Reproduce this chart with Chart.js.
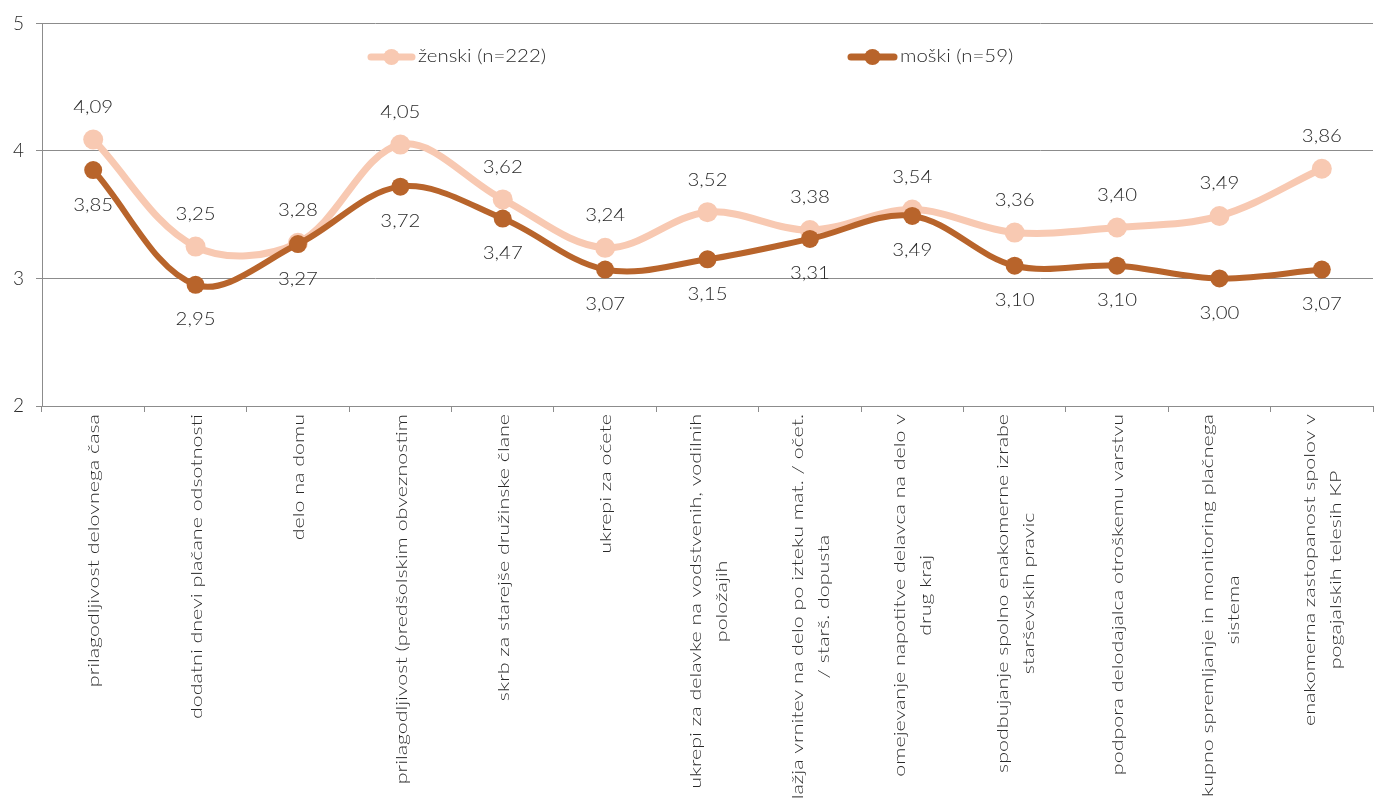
<!DOCTYPE html>
<html>
<head>
<meta charset="utf-8">
<script src="https://cdn.jsdelivr.net/npm/chart.js@4.4.0/dist/chart.umd.min.js"></script>
<style>
  html, body { margin: 0; padding: 0; background: #fff; }
  #wrap { width: 1383px; height: 798px; }
</style>
</head>
<body>
<div id="wrap"><canvas id="myChart"></canvas></div>
<script>
// category labels (line breaks as in the original)
var labels = [
    ['prilagodljivost delovnega časa'],
    ['dodatni dnevi plačane odsotnosti'],
    ['delo na domu'],
    ['prilagodljivost (predšolskim obveznostim'],
    ['skrb za starejše družinske člane'],
    ['ukrepi za očete'],
    ['ukrepi za delavke na vodstvenih, vodilnih', 'položajih'],
    ['lažja vrnitev na delo po izteku mat. / očet.', '/ starš. dopusta'],
    ['omejevanje napotitve delavca na delo v', 'drug kraj'],
    ['spodbujanje spolno enakomerne izrabe', 'starševskih pravic'],
    ['podpora delodajalca otroškemu varstvu'],
    ['skupno spremljanje in monitoring plačnega', 'sistema'],
    ['enakomerna zastopanost spolov v', 'pogajalskih telesih KP']
];
var zenski = [4.09, 3.25, 3.28, 4.05, 3.62, 3.24, 3.52, 3.38, 3.54, 3.36, 3.40, 3.49, 3.86];
var moski = [3.85, 2.95, 3.27, 3.72, 3.47, 3.07, 3.15, 3.31, 3.49, 3.10, 3.10, 3.00, 3.07];
var yTicks = [2, 3, 4, 5];

var zenskiColor = '#f8c9b2';
var moskiColor = '#b8642b';
var gridColor = '#8c8c8c';
var textColor = '#2a2a2a';
var fontFam = 'Lato, "Liberation Sans", sans-serif';

function fmt(v) {
    return v.toFixed(2).replace('.', ',');
}

// stretched text like the original picture
function drawText(ctx, txt, x, y, sx) {
    ctx.save();
    ctx.translate(x, y);
    ctx.scale(sx, 1);
    ctx.fillText(txt, 0, 0);
    ctx.restore();
}

var extras = {
    id: 'extras',
    afterDatasetsDraw: function(chart) {
        var ctx = chart.ctx;
        var xs = chart.scales.x;
        var area = chart.chartArea;

        // data labels
        ctx.save();
        ctx.font = '300 17px ' + fontFam;
        ctx.fillStyle = textColor;
        ctx.textAlign = 'center';
        ctx.textBaseline = 'middle';
        [[0, -32], [1, 35]].forEach(function(d) {
            var meta = chart.getDatasetMeta(d[0]);
            var vals = chart.data.datasets[d[0]].data;
            meta.data.forEach(function(pt, i) {
                drawText(ctx, fmt(vals[i]), pt.x, pt.y + d[1], 1.2);
            });
        });
        ctx.restore();

        // category labels, rotated
        ctx.save();
        ctx.font = '300 16px ' + fontFam;
        ctx.fillStyle = textColor;
        ctx.textBaseline = 'middle';
        ctx.textAlign = 'center';
        var lh = 26;
        var sx = 1.34;
        labels.forEach(function(lines, i) {
            var x = xs.getPixelForValue(i) + 1;
            var w = 0;
            lines.forEach(function(l) { w = Math.max(w, ctx.measureText(l).width * sx); });
            ctx.save();
            ctx.translate(x, area.bottom + 8);
            ctx.rotate(-Math.PI / 2);
            lines.forEach(function(l, k) {
                var off = (k - (lines.length - 1) / 2) * lh;
                drawText(ctx, l, -w / 2, off, sx);
            });
            ctx.restore();
        });
        ctx.restore();

        // legend inside plot
        ctx.save();
        ctx.font = '300 17px ' + fontFam;
        ctx.textBaseline = 'middle';
        ctx.textAlign = 'left';
        [[zenskiColor, 'ženski (n=222)', 368, 415], [moskiColor, 'moški (n=59)', 848, 897]].forEach(function(l) {
            var y = 57;
            ctx.strokeStyle = l[0];
            ctx.lineWidth = 7;
            ctx.lineCap = 'round';
            ctx.beginPath();
            ctx.moveTo(l[2] + 3, y);
            ctx.lineTo(l[3] - 3, y);
            ctx.stroke();
            ctx.fillStyle = l[0];
            ctx.beginPath();
            ctx.arc((l[2] + l[3]) / 2, y, 8, 0, Math.PI * 2);
            ctx.fill();
            ctx.fillStyle = textColor;
            drawText(ctx, l[1], l[3] + 3, y, 1.2);
        });
        ctx.restore();
    }
};

var ctx = document.getElementById('myChart').getContext('2d');
var myChart = new Chart(ctx, {
    type: 'line',
    data: {
        labels: labels,
        datasets: [
            {
                label: 'ženski (n=222)',
                data: zenski,
                borderColor: zenskiColor,
                backgroundColor: zenskiColor,
                borderWidth: 7,
                pointRadius: 10,
                pointBorderWidth: 0,
                tension: 0.35,
                order: 1
            },
            {
                label: 'moški (n=59)',
                data: moski,
                borderColor: moskiColor,
                backgroundColor: moskiColor,
                borderWidth: 6,
                pointRadius: 9,
                pointBorderWidth: 0,
                tension: 0.35,
                order: 0
            }
        ]
    },
    options: {
        responsive: true,
        maintainAspectRatio: false,
        animation: false,
        layout: { padding: { top: 20, right: 3, left: 0, bottom: 0 } },
        plugins: {
            legend: { display: false },
            tooltip: { enabled: false }
        },
        scales: {
            x: {
                offset: true,
                grid: { offset: true, drawOnChartArea: false, color: gridColor, tickLength: 6 },
                border: { color: gridColor },
                ticks: { display: false },
                afterFit: function(scale) { scale.height = 392; }
            },
            y: {
                min: 2,
                max: 5,
                afterBuildTicks: function(scale) {
                    scale.ticks = yTicks.map(function(v) { return { value: v }; });
                },
                grid: { color: gridColor, tickLength: 6 },
                border: { color: gridColor },
                ticks: {
                    padding: 12,
                    color: textColor,
                    font: { family: fontFam, size: 19, weight: '300' }
                },
                afterFit: function(scale) { scale.width = 42; }
            }
        }
    },
    plugins: [extras]
});
</script>
</body>
</html>
